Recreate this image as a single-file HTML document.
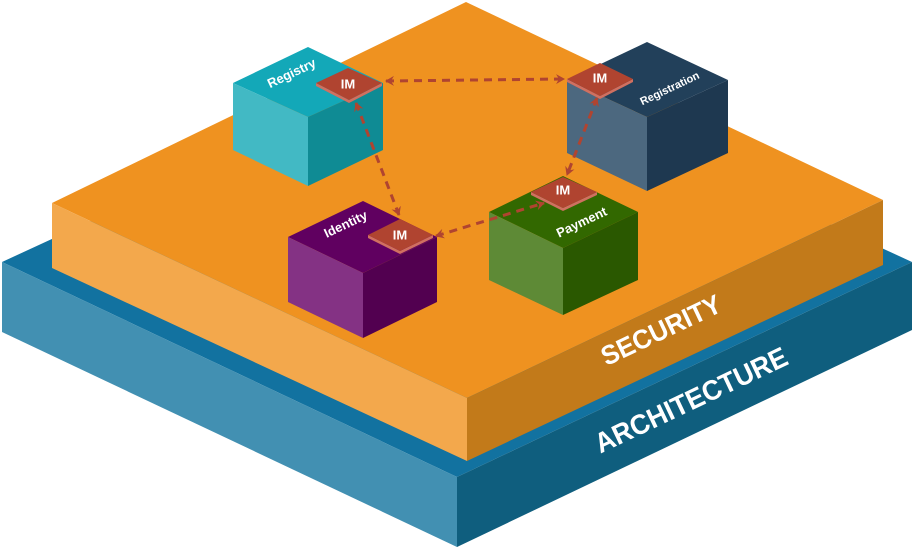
<!DOCTYPE html>
<html><head><meta charset="utf-8"><style>html,body{margin:0;padding:0;background:#fff}svg{display:block}</style></head>
<body>
<svg width="913" height="549" viewBox="0 0 913 549" xmlns="http://www.w3.org/2000/svg" font-family="Liberation Sans, sans-serif" font-weight="bold">
<defs>
<marker id="ah" markerWidth="10" markerHeight="10" refX="8" refY="5" orient="auto-start-reverse" markerUnits="userSpaceOnUse">
<path d="M0,0 L9,5 L0,10 L3,5 Z" fill="#b04430"/>
</marker>
</defs>
<!-- Blue base -->
<polygon points="2,262 457,52 912,262 457,477" fill="#1272a0"/>
<polygon points="2,262 457,477 457,547 2,332" fill="#4290b2"/>
<polygon points="457,477 912,262 912,330 457,547" fill="#0f5e7e"/>
<!-- Orange slab -->
<polygon points="52,203 466,2 883,200 467,398" fill="#ef9220"/>
<polygon points="52,203 467,398 467,461 52,268" fill="#f3a84c"/>
<polygon points="467,398 883,200 883,265 467,461" fill="#c27a1a"/>
<text transform="translate(662,332) rotate(-25.4) scale(0.95,1)" text-anchor="middle" dominant-baseline="middle" fill="#fff" font-size="27">SECURITY</text>
<text transform="translate(692,402) rotate(-25.4) scale(0.95,1)" text-anchor="middle" dominant-baseline="middle" fill="#fff" font-size="28">ARCHITECTURE</text>

<!-- Registry cube -->
<polygon points="233,83 308,47 383,83 308,117" fill="#13a8b8"/>
<polygon points="233,83 308,117 308,186 233,150" fill="#42b9c4"/>
<polygon points="308,117 383,83 383,150 308,186" fill="#0f8b94"/>
<text transform="translate(292,74) rotate(-25.4)" text-anchor="middle" dominant-baseline="middle" fill="#fff" font-size="13">Registry</text>
<!-- Registration cube -->
<polygon points="567,80 647,42 728,80 647,117" fill="#22405a"/>
<polygon points="567,80 647,117 647,191 567,153" fill="#4c687f"/>
<polygon points="647,117 728,80 728,153 647,191" fill="#1e3850"/>
<text transform="translate(670,89) rotate(-25.4)" text-anchor="middle" dominant-baseline="middle" fill="#fff" font-size="11">Registration</text>
<!-- Identity cube -->
<polygon points="288,237 363,201 437,237 363,273" fill="#600060"/>
<polygon points="288,237 363,273 363,338 288,302" fill="#843284"/>
<polygon points="363,273 437,237 437,302 363,338" fill="#520050"/>
<text transform="translate(346,225) rotate(-25.4)" text-anchor="middle" dominant-baseline="middle" fill="#fff" font-size="13">Identity</text>
<!-- Payment cube -->
<polygon points="489,212 563,176 638,212 563,248" fill="#326800"/>
<polygon points="489,212 563,248 563,315 489,280" fill="#5e8a36"/>
<polygon points="563,248 638,212 638,280 563,315" fill="#2a5800"/>
<text transform="translate(582,223) rotate(-25.4)" text-anchor="middle" dominant-baseline="middle" fill="#fff" font-size="13">Payment</text>

<!-- IM plates -->
<g>
<polygon points="316,83 349,100 382,83 382,86 349,103 316,86" fill="#d07060"/>
<polygon points="316,83 348,68 382,83 349,100" fill="#b04430"/>
<text x="348" y="85" text-anchor="middle" dominant-baseline="middle" fill="#fff" font-size="13">IM</text>
</g>
<g>
<polygon points="567,79 600,96 633,79 633,82 600,99 567,82" fill="#d07060"/>
<polygon points="567,79 600,63 633,79 600,96" fill="#b04430"/>
<text x="600" y="79" text-anchor="middle" dominant-baseline="middle" fill="#fff" font-size="13">IM</text>
</g>
<g>
<polygon points="531,192 563,208 597,192 597,195 563,211 531,195" fill="#d07060"/>
<polygon points="531,192 563,177 597,192 563,208" fill="#b04430"/>
<text x="563" y="191" text-anchor="middle" dominant-baseline="middle" fill="#fff" font-size="13">IM</text>
</g>
<g>
<polygon points="368,235 400,251 433,235 433,238 400,254 368,238" fill="#d07060"/>
<polygon points="368,235 400,219 433,235 400,251" fill="#b04430"/>
<text x="400" y="236" text-anchor="middle" dominant-baseline="middle" fill="#fff" font-size="13">IM</text>
</g>

<!-- connectors -->
<g stroke="#b04430" stroke-width="3" stroke-dasharray="8 6" fill="none">
<line x1="386" y1="81" x2="564" y2="79" marker-start="url(#ah)" marker-end="url(#ah)"/>
<line x1="356" y1="103" x2="399" y2="215" marker-start="url(#ah)" marker-end="url(#ah)"/>
<line x1="597" y1="98" x2="567" y2="175" marker-start="url(#ah)" marker-end="url(#ah)"/>
<line x1="436" y1="236" x2="544" y2="203" marker-start="url(#ah)" marker-end="url(#ah)"/>
</g>
</svg>
</body></html>
